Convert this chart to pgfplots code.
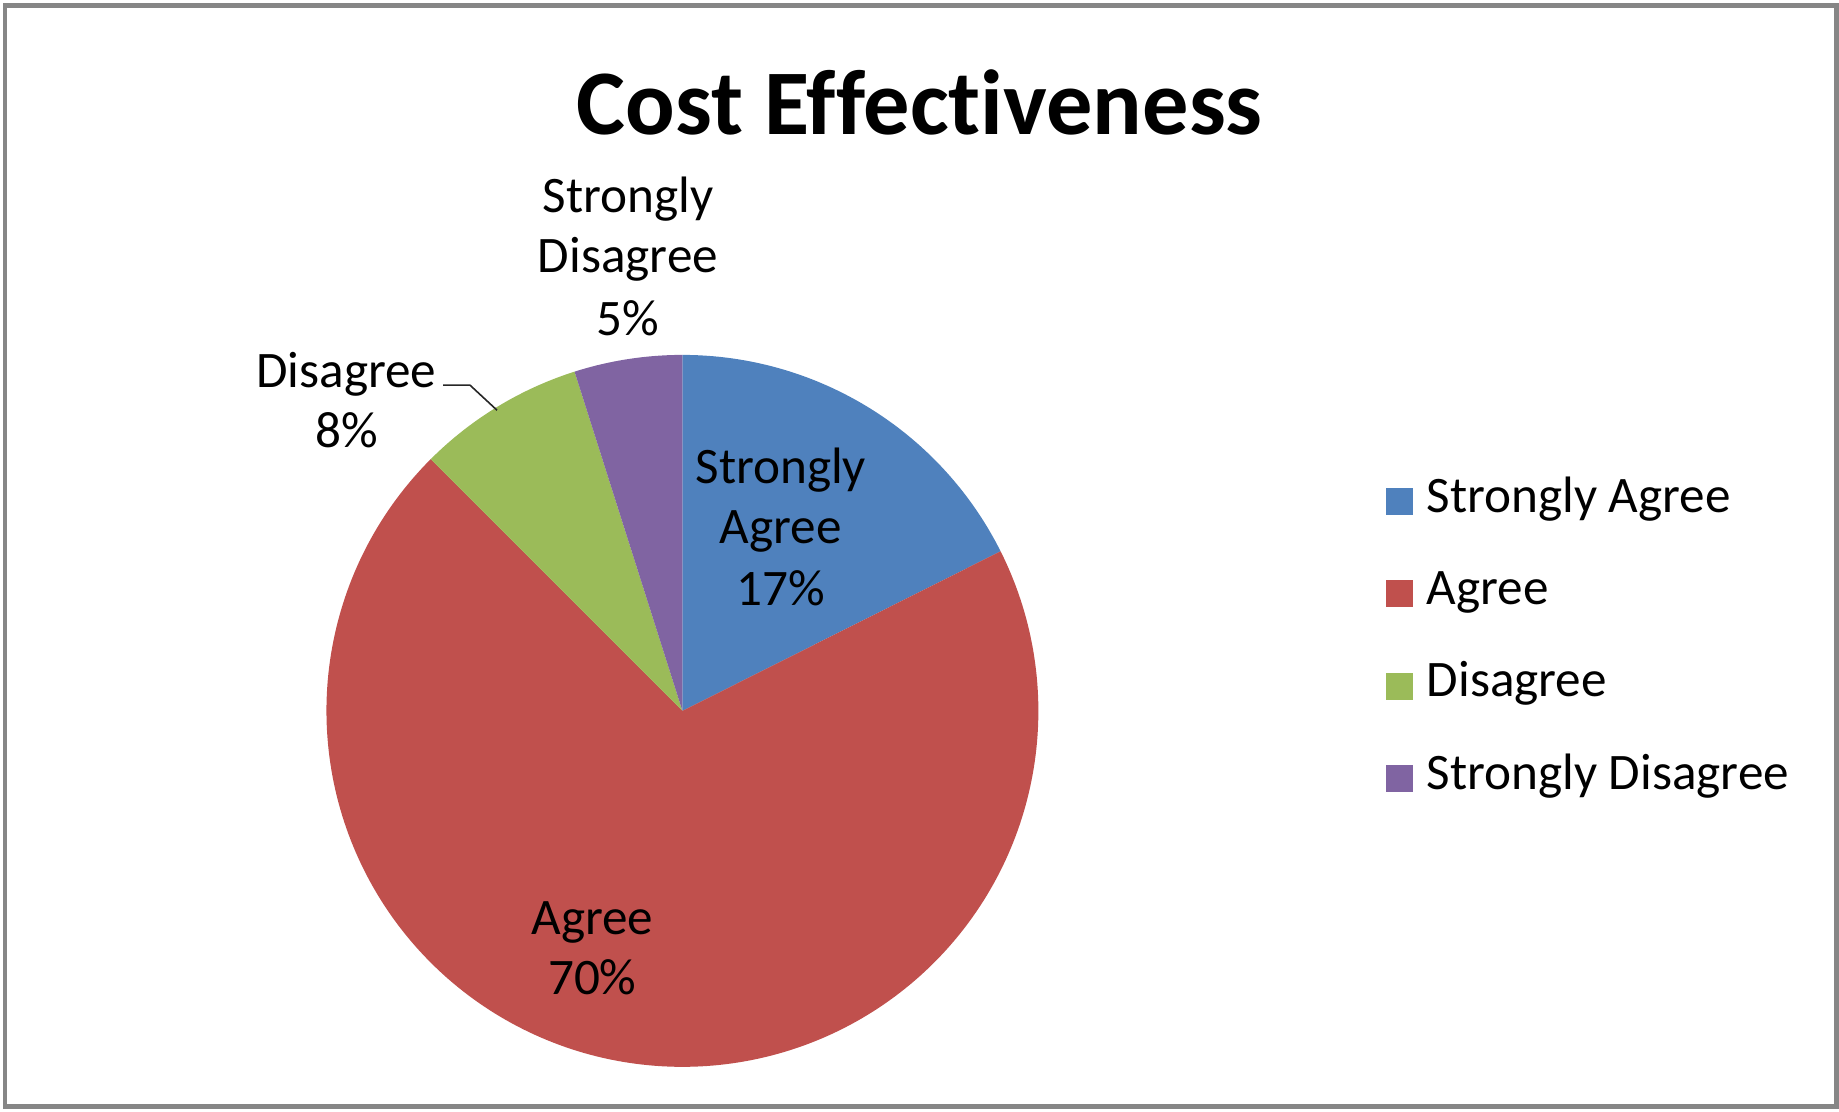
\documentclass[border=0pt]{standalone}
\usepackage{pgfplots}
\pgfplotsset{compat=1.18}
\usepackage{pgfplotstable}
\usepackage{fontspec}
\setmainfont{Carlito}[Ligatures=NoCommon]
\definecolor{saBlue}{HTML}{4F81BD}
\definecolor{agRed}{HTML}{C0504D}
\definecolor{diGreen}{HTML}{9BBB59}
\definecolor{sdPurple}{HTML}{8064A2}
\definecolor{frameGray}{HTML}{868686}
\newcommand{\lbl}{\fontsize{12.8}{15}\selectfont}

\pgfplotstableread{
label value
StronglyAgree 17.6
Agree 69.9
Disagree 7.6
StronglyDisagree 4.9
}\piedata

\begin{document}
\begin{tikzpicture}
\pgfplotstablegetelem{0}{value}\of\piedata \let\vA\pgfplotsretval
\pgfplotstablegetelem{1}{value}\of\piedata \let\vB\pgfplotsretval
\pgfplotstablegetelem{2}{value}\of\piedata \let\vC\pgfplotsretval
\pgfplotstablegetelem{3}{value}\of\piedata \let\vD\pgfplotsretval
\pgfmathsetmacro{\aA}{90}
\pgfmathsetmacro{\aB}{\aA-3.6*\vA}
\pgfmathsetmacro{\aC}{\aB-3.6*\vB}
\pgfmathsetmacro{\aD}{\aC-3.6*\vC}
\pgfmathsetmacro{\aE}{\aD-3.6*\vD}
\begin{axis}[
  x=89pt, y=89pt,
  xmin=-1.917, xmax=3.249, ymin=-1.124, ymax=1.997,
  hide axis, clip=false,
  legend image code/.code={\fill[#1] (0pt,-4.6pt) rectangle (6.75pt,2.15pt);},
  legend style={at={(axis cs:1.976,0.6705)}, anchor=north west, draw=none, fill=none,
    inner sep=0pt, outer sep=0pt, row sep=10.9pt, column sep=3.5pt,
    cells={anchor=west}, font=\lbl,
    nodes={inner sep=0pt, text height=10pt, text depth=2.2pt}},
]
\path (rel axis cs:0,0) rectangle (rel axis cs:1,1);
\addplot[fill=saBlue, draw=none, domain=\aB:\aA, samples=90] ({cos(x)},{sin(x)}) -- (axis cs:0,0) -- cycle;
\addlegendentry{Strongly Agree}
\addplot[fill=agRed, draw=none, domain=\aC:\aB, samples=240] ({cos(x)},{sin(x)}) -- (axis cs:0,0) -- cycle;
\addlegendentry{Agree}
\addplot[fill=diGreen, draw=none, domain=\aD:\aC, samples=40] ({cos(x)},{sin(x)}) -- (axis cs:0,0) -- cycle;
\addlegendentry{Disagree}
\addplot[fill=sdPurple, draw=none, domain=\aE:\aD, samples=30] ({cos(x)},{sin(x)}) -- (axis cs:0,0) -- cycle;
\addlegendentry{Strongly Disagree}

% title
\node[anchor=base, font=\bfseries\fontsize{23.1}{27}\selectfont, inner sep=0pt] at (axis cs:0.6669,1.620) {Cost Effectiveness};

% data labels
\begin{scope}[every node/.style={anchor=base, font=\lbl, inner sep=0pt}]
\node at (axis cs:0.2764,0.6396) {Strongly};
\node at (axis cs:0.2764,0.4711) {Agree};
\node at (axis cs:0.2764,0.2969) {17\%};
\node at (axis cs:-0.2531,-0.6272) {Agree};
\node at (axis cs:-0.2531,-0.7958) {70\%};
\node at (axis cs:-0.9441,0.9093) {Disagree};
\node at (axis cs:-0.9441,0.7407) {8\%};
\node at (axis cs:-0.153,1.4005) {Strongly};
\node at (axis cs:-0.153,1.232) {Disagree};
\node at (axis cs:-0.153,1.055) {5\%};
\end{scope}
\draw[black!85, line width=0.4pt] (axis cs:-0.6725,0.9149) -- (axis cs:-0.5966,0.9149) -- (axis cs:-0.5208,0.8446);

% frame
\draw[frameGray, line width=1.2pt] ([xshift=1.25pt,yshift=1.15pt]rel axis cs:0,0) rectangle ([xshift=-0.6pt,yshift=-1.35pt]rel axis cs:1,1);
\end{axis}
\end{tikzpicture}
\end{document}
